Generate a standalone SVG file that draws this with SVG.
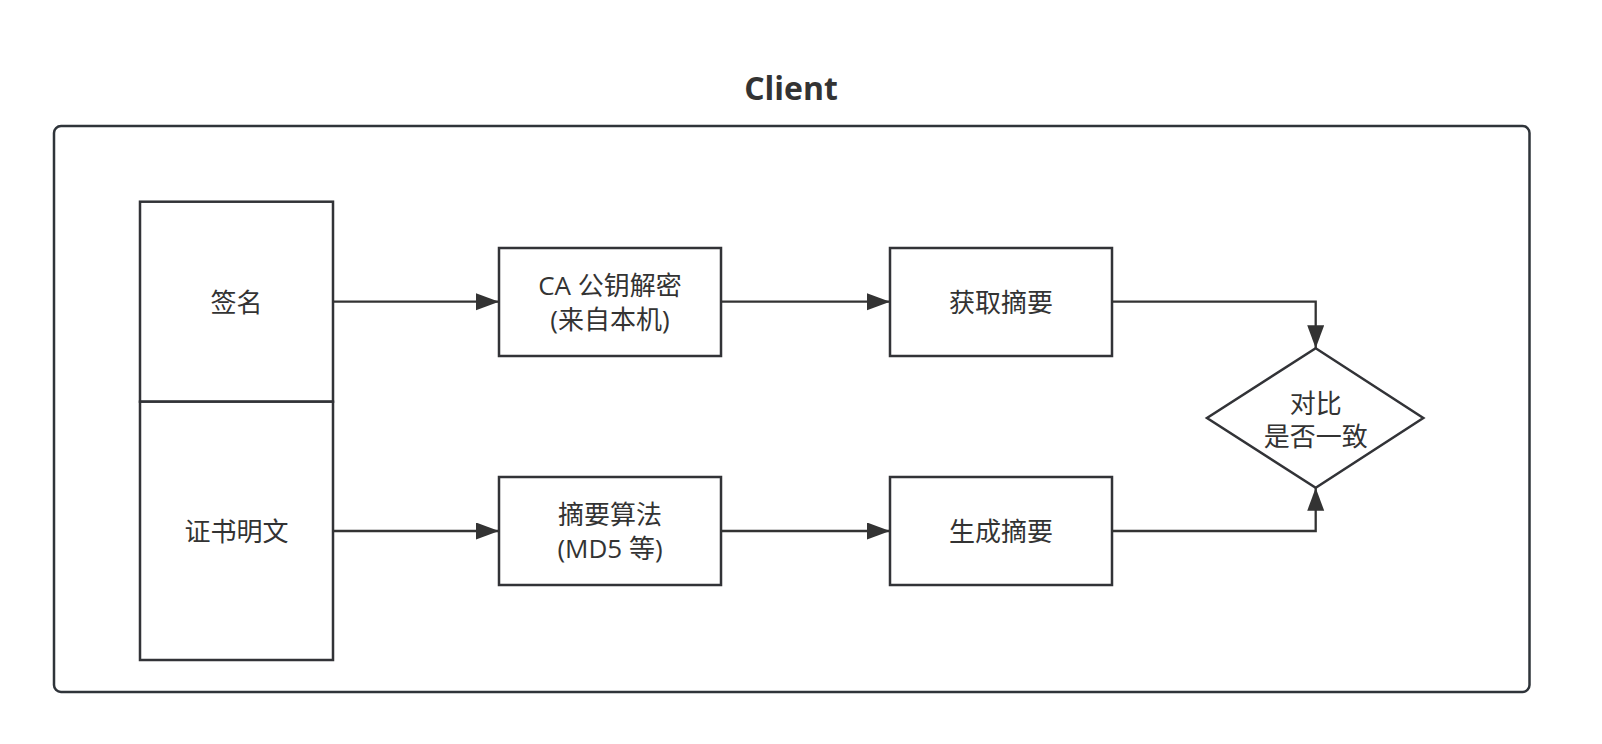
<svg xmlns="http://www.w3.org/2000/svg" width="1602" height="744" viewBox="0 0 1602 744">
<defs>
<style>
.box{fill:#fff;stroke:#323337;stroke-width:2.5}
.outer{fill:none;stroke:#2f343a;stroke-width:2.5}
.lbl{font-family:"Open Sans","Noto Sans CJK SC",sans-serif;font-size:26px;fill:#333;text-anchor:middle;dominant-baseline:central}
.title{font-family:"Open Sans","Noto Sans CJK SC",sans-serif;font-size:32px;font-weight:bold;fill:#333;text-anchor:middle}
.conn{fill:none;stroke:#333;stroke-width:2.3;marker-end:url(#arr)}
</style>
<marker id="arr" markerUnits="userSpaceOnUse" markerWidth="24" markerHeight="18" refX="23" refY="8.5" orient="auto">
<path d="M0,0 L23,8.5 L0,17 Z" fill="#333"/>
</marker>
</defs>
<rect width="1602" height="744" fill="#fff"/>
<g id="client">
<rect class="outer" x="54" y="126" width="1475.5" height="566" rx="7"/>
<text class="title" x="791" y="100">Client</text>
</g>
<g id="signature">
<rect class="box" x="140" y="201.7" width="193" height="200"/>
<text class="lbl" x="236.5" y="301.7">签名</text>
</g>
<g id="cert">
<rect class="box" x="140" y="401.7" width="193" height="258.3"/>
<text class="lbl" x="236.5" y="531">证书明文</text>
</g>
<g id="decrypt">
<rect class="box" x="499" y="248" width="222" height="108"/>
<text class="lbl" x="610" y="285">CA 公钥解密<tspan x="610" dy="34">(来自本机)</tspan></text>
</g>
<g id="getdigest">
<rect class="box" x="890" y="248" width="222" height="108"/>
<text class="lbl" x="1001" y="302">获取摘要</text>
</g>
<g id="algo">
<rect class="box" x="499" y="477" width="222" height="108"/>
<text class="lbl" x="610" y="514">摘要算法<tspan x="610" dy="34">(MD5 等)</tspan></text>
</g>
<g id="gendigest">
<rect class="box" x="890" y="477" width="222" height="108"/>
<text class="lbl" x="1001" y="531">生成摘要</text>
</g>
<g id="compare">
<polygon class="box" points="1315.7,348.3 1423.3,418 1315.7,487.8 1207,418"/>
<text class="lbl" x="1315.7" y="403">对比<tspan x="1315.7" dy="33">是否一致</tspan></text>
</g>
<g id="connectors">
<path class="conn" d="M333,301.7 H499"/>
<path class="conn" d="M721,301.7 H890"/>
<path class="conn" d="M1112,301.7 H1315.7 V348.3"/>
<path class="conn" d="M333,531 H499"/>
<path class="conn" d="M721,531 H890"/>
<path class="conn" d="M1112,531 H1315.7 V487.8"/>
</g>
</svg>
